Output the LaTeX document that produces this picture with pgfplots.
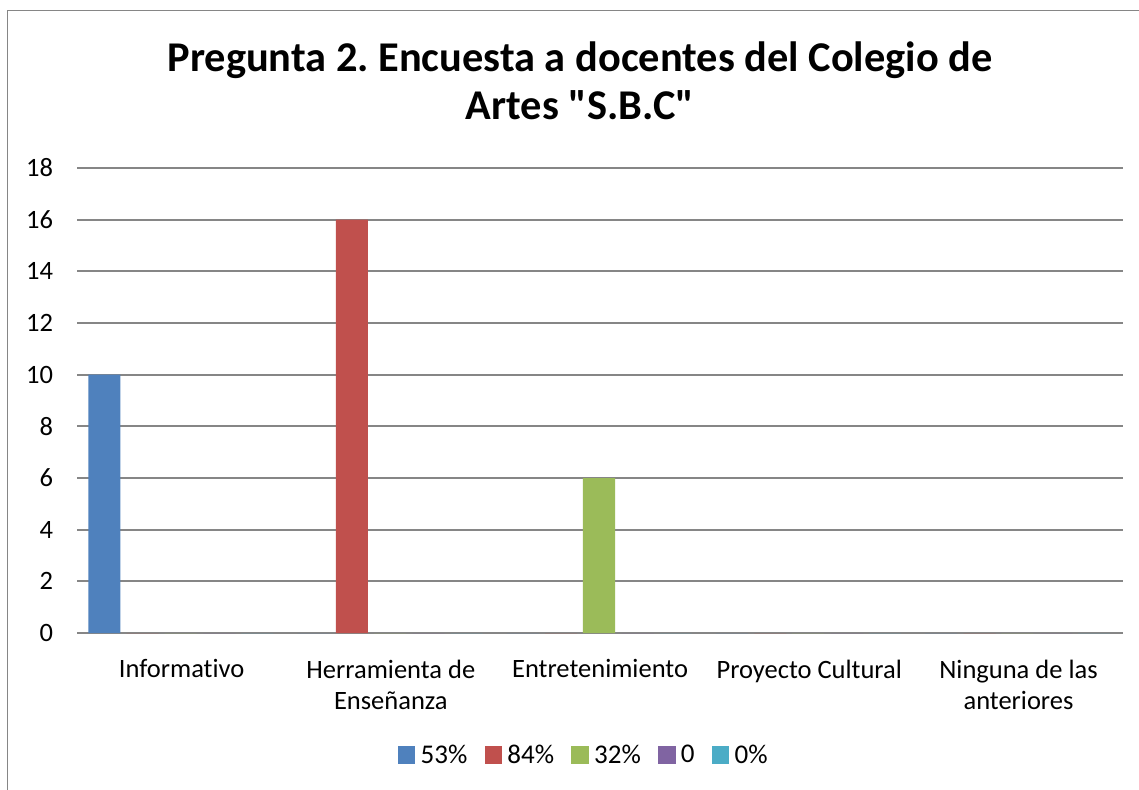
\documentclass[border=0pt]{standalone}
\usepackage{fontspec}
\setmainfont{Carlito}[Ligatures={NoCommon,TeXOff}]
\usepackage{pgfplots}
\pgfplotsset{compat=1.18}
\definecolor{xblue}{HTML}{4F81BD}
\definecolor{xred}{HTML}{C0504D}
\definecolor{xgreen}{HTML}{9BBB59}
\definecolor{xpurple}{HTML}{8064A2}
\definecolor{xcyan}{HTML}{4BACC6}
\definecolor{gridgray}{HTML}{868686}
\frenchspacing
\begin{document}
\begin{tikzpicture}
\useasboundingbox (0,0) rectangle (429.86pt,297.77pt);
\draw[gridgray, line width=0.6pt] (2.9pt,-5pt) -- (2.9pt,293.8pt) -- (440pt,293.8pt);
\node[font=\bfseries\fontsize{16}{19}\selectfont, anchor=base] at (218.9pt,270.6pt) {Pregunta 2. Encuesta a docentes del Colegio de};
\node[font=\bfseries\fontsize{16}{19}\selectfont, anchor=base] at (218.9pt,252.5pt) {Artes "S.B.C"};
\begin{axis}[
  at={(29.06pt,58.87pt)}, anchor=south west,
  scale only axis, width=394.8pt, height=175.5pt,
  xmin=-0.5, xmax=4.5, ymin=0, ymax=18,
  ytick={0,2,...,18}, xtick={0,1,2,3,4},
  xticklabels={Informativo, Herramienta de\\Enseñanza, Entretenimiento, Proyecto Cultural, Ninguna de las\\anteriores},
  axis line style={draw=none}, major tick length=0pt,
  ymajorgrids, grid style={gridgray, line width=0.75pt},
  tick label style={font=\fontsize{10}{11.7}\selectfont},
  /pgf/number format/assume math mode=true,
  yticklabel style={anchor=east, xshift=-5.5pt},
  xticklabel style={anchor=north, align=center, yshift=-6.5pt},
  ybar=2.2pt, bar width=12.08pt,
  legend columns=-1,
  legend style={at={(0.486,-0.2645)}, anchor=center, draw=none,
    font=\fontsize{10.2}{12}\selectfont,
    /tikz/every even column/.append style={column sep=4.5pt}},
  legend image code/.code={\fill[#1,draw=none] (0pt,-2.9pt) rectangle (6.6pt,3.7pt);},
]
\addplot[fill=xblue, draw=none, xshift=-0.6pt] coordinates {(0,10) (1,0) (2,0) (3,0) (4,0)};
\addlegendentry{53\%}
\addplot[fill=xred, draw=none, xshift=-0.4pt] coordinates {(0,0) (1,16) (2,0) (3,0) (4,0)};
\addlegendentry{84\%}
\addplot[fill=xgreen, draw=none, xshift=-0.4pt] coordinates {(0,0) (1,0) (2,6) (3,0) (4,0)};
\addlegendentry{32\%}
\addplot[fill=xpurple, draw=none] coordinates {(0,0) (1,0) (2,0) (3,0) (4,0)};
\addlegendentry{0}
\addplot[fill=xcyan, draw=none] coordinates {(0,0) (1,0) (2,0) (3,0) (4,0)};
\addlegendentry{0\%}
\end{axis}
\end{tikzpicture}
\end{document}
